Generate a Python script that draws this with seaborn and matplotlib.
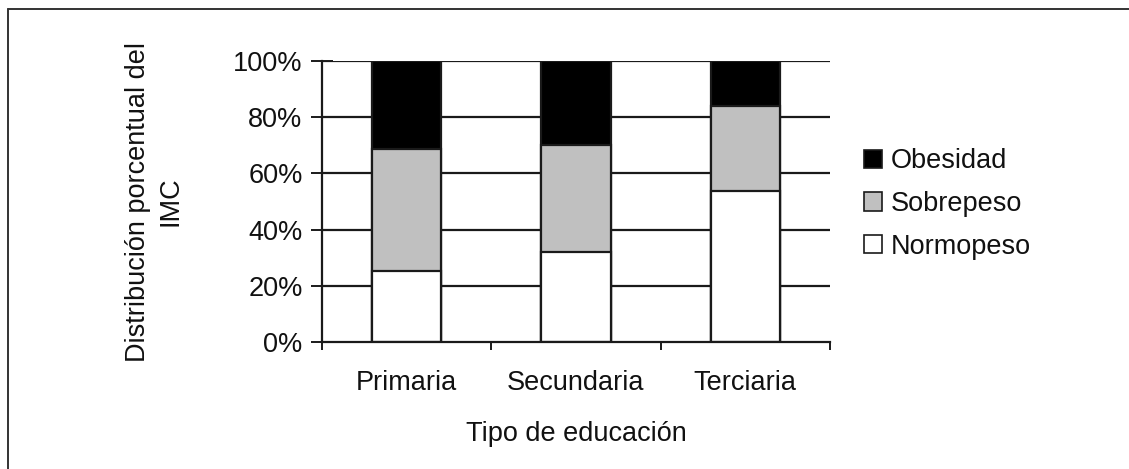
import matplotlib
matplotlib.use("Agg")
import matplotlib.pyplot as plt
import seaborn as sns
import numpy as np
import pandas as pd
from matplotlib.patches import Patch
from matplotlib.lines import Line2D
from matplotlib.ticker import FixedLocator, PercentFormatter

categories = ["Primaria", "Secundaria", "Terciaria"]
normopeso = [25.4, 32.2, 53.9]
sobrepeso = [43.2, 38.0, 30.1]
obesidad = [31.4, 29.8, 16.0]
series_names = ["Obesidad", "Sobrepeso", "Normopeso"]
yticks = [0, 20, 40, 60, 80, 100]

sns.set_theme(style="white")
plt.rcParams['font.family'] = ['Liberation Sans', 'DejaVu Sans']
TXT = "#111111"
FS = 19.5

fig = plt.figure(figsize=(11.29, 4.69), dpi=100)
ax = fig.add_axes([322/1129, 1-342/469, (830-322)/1129, (342-61)/469])

df = pd.DataFrame({"cat": categories, "norm": normopeso, "sobre": sobrepeso, "obes": obesidad})
df["c2"] = df["norm"] + df["sobre"]
df["c3"] = df["c2"] + df["obes"]

for col, color in [("c3", "#000000"), ("c2", "#c0c0c0"), ("norm", "#ffffff")]:
    sns.barplot(data=df, x="cat", y=col, color=color, width=0.41, edgecolor="#1a1a1a",
                linewidth=1.6, saturation=1, ax=ax, zorder=3)

ax.set_ylim(0, 100)
ax.set_xlim(-0.5, 2.5)
for y in yticks[1:]:
    ax.axhline(y, color="#1a1a1a", lw=1.6, zorder=1)

ax.yaxis.set_major_locator(FixedLocator(yticks))
ax.yaxis.set_major_formatter(PercentFormatter(decimals=0))
ax.tick_params(axis="y", which="major", direction="inout", length=16, width=1.4,
               color="#1a1a1a", labelsize=FS, labelcolor=TXT, pad=6, left=True)
ax.set_xticks(range(len(categories)))
ax.set_xticklabels(categories)
ax.set_xticks([-0.5, 0.5, 1.5, 2.5], minor=True)
ax.tick_params(axis="x", which="major", length=0, labelsize=FS, labelcolor=TXT, pad=20)
ax.tick_params(axis="x", which="minor", direction="out", length=6, width=1.4,
               color="#1a1a1a", bottom=True)

for s in ["top", "right"]:
    ax.spines[s].set_visible(False)
for s in ["left", "bottom"]:
    ax.spines[s].set_color("#1a1a1a")
    ax.spines[s].set_linewidth(1.6)
    ax.spines[s].set_zorder(4)

ax.set_xlabel("Tipo de educación", fontsize=FS, color=TXT, labelpad=18)
ax.set_ylabel("Distribución porcentual del\nIMC", fontsize=FS, color=TXT, labelpad=36,
              linespacing=1.3)
ax.grid(False)
ax.set_facecolor("white")

handles = [Patch(facecolor="#000000", edgecolor="#1a1a1a", lw=1.2),
           Patch(facecolor="#c0c0c0", edgecolor="#1a1a1a", lw=1.2),
           Patch(facecolor="#ffffff", edgecolor="#1a1a1a", lw=1.2)]
leg = fig.legend(handles, series_names, loc="center left", bbox_to_anchor=(864/1129, 1-204/469),
                 frameon=False, fontsize=FS, handlelength=0.65, handleheight=0.65,
                 handletextpad=0.35, labelspacing=0.62, borderpad=0, borderaxespad=0)
for t in leg.get_texts():
    t.set_color(TXT)

fig.add_artist(Line2D([7.5/1129, 7.5/1129], [0, 1-9/469], transform=fig.transFigure,
                      color="#333333", lw=1.4))
fig.add_artist(Line2D([7.5/1129, 1], [1-9/469, 1-9/469], transform=fig.transFigure,
                      color="#333333", lw=1.4))

fig.savefig("out.png", dpi=100, facecolor="white")
